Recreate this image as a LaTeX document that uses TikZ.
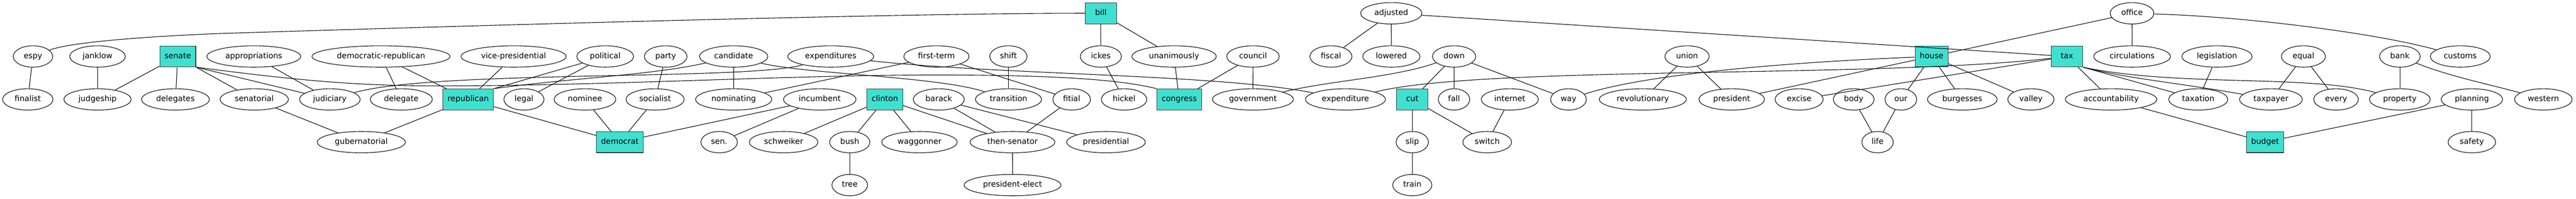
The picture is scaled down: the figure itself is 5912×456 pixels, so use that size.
\documentclass[tikz,border=0pt]{standalone}
\usepackage{fontspec}
\setmainfont{DejaVu Sans}
\usetikzlibrary{shapes.geometric}
\definecolor{turq}{RGB}{64,224,208}
\definecolor{boxline}{RGB}{51,51,51}
\begin{document}
\begin{tikzpicture}[x=0.5pt,y=-0.5pt,
  every node/.style={font=\fontsize{9}{11}\selectfont, text height=6.6pt, text depth=2pt},
  word/.style={ellipse, draw=black, line width=0.65pt, inner xsep=5.4pt, inner ysep=0pt, minimum width=36pt, minimum height=24.5pt},
  hub/.style={rectangle, draw=boxline, fill=turq, line width=0.65pt, inner xsep=5.4pt, inner ysep=0pt, minimum width=36pt, minimum height=24pt},
  link/.style={draw=black, line width=0.65pt}]
\useasboundingbox (0,0) rectangle (5912,456);
% row 0
\node[hub]  (bill) at (2526.5,30.5) {bill};
\node[word] (adjusted) at (3193,30.5) {adjusted};
\node[word] (office) at (4893,30.5) {office};
% row 1
\node[word] (espy) at (75.7,129.5) {espy};
\node[word] (janklow) at (223.8,129.5) {janklow};
\node[hub]  (senate) at (408,129.5) {senate};
\node[word] (appropriations) at (582.5,129.5) {appropriations};
\node[word] (demrep) at (874.5,129.5) {democratic-republican};
\node[word] (vicepres) at (1178.7,129.5) {vice-presidential};
\node[word] (political) at (1389,129.5) {political};
\node[word] (party) at (1527.7,129.5) {party};
\node[word] (candidate) at (1683.7,129.5) {candidate};
\node[word] (expenditures) at (1906.5,129.5) {expenditures};
\node[word] (firstterm) at (2149.2,129.5) {first-term};
\node[word] (shift) at (2314.3,129.5) {shift};
\node[word] (ickes) at (2526.5,129.5) {ickes};
\node[word] (unanimously) at (2694.5,129.5) {unanimously};
\node[word] (council) at (2875.7,129.5) {council};
\node[word] (fiscal) at (3054.5,129.5) {fiscal};
\node[word] (lowered) at (3193.2,129.5) {lowered};
\node[word] (down) at (3337.2,129.5) {down};
\node[word] (union) at (3871.8,129.5) {union};
\node[hub]  (house) at (4433.2,129.5) {house};
\node[hub]  (tax) at (4743.8,129.5) {tax};
\node[word] (circulations) at (4893.2,129.5) {circulations};
\node[word] (legislation) at (5088,129.5) {legislation};
\node[word] (equal) at (5286.3,129.5) {equal};
\node[word] (bank) at (5507.7,129.5) {bank};
\node[word] (customs) at (5646.3,129.5) {customs};
% row 2
\node[word] (finalist) at (63.8,228) {finalist};
\node[word] (judgeship) at (223.8,228) {judgeship};
\node[word] (delegates) at (402.7,228) {delegates};
\node[word] (senatorial) at (583.5,228) {senatorial};
\node[word] (judiciary) at (757,228) {judiciary};
\node[word] (delegate) at (921,228) {delegate};
\node[hub]  (republican) at (1074.5,228) {republican};
\node[word] (legal) at (1202.5,228) {legal};
\node[word] (nominee) at (1342.5,228) {nominee};
\node[word] (socialist) at (1503.5,228) {socialist};
\node[word] (nominating) at (1683.8,228) {nominating};
\node[word] (incumbent) at (1881.3,228) {incumbent};
\node[hub]  (clinton) at (2030.7,228) {clinton};
\node[word] (barack) at (2154.5,228) {barack};
\node[word] (transition) at (2314.5,228) {transition};
\node[word] (fitial) at (2459.5,228) {fitial};
\node[word] (hickel) at (2579.8,228) {hickel};
\node[hub]  (congress) at (2706.3,228) {congress};
\node[word] (government) at (2875.5,228) {government};
\node[word] (expenditure) at (3087.8,228) {expenditure};
\node[hub]  (cut) at (3241.2,228) {cut};
\node[word] (fall) at (3337,228) {fall};
\node[word] (internet) at (3465,228) {internet};
\node[word] (way) at (3599.7,228) {way};
\node[word] (revolutionary) at (3770.3,228) {revolutionary};
\node[word] (president) at (3974.3,228) {president};
\node[word] (excise) at (4129,228) {excise};
\node[word] (body) at (4254.3,228) {body};
\node[word] (our) at (4362.5,228) {our};
\node[word] (burgesses) at (4503.5,228) {burgesses};
\node[word] (valley) at (4661,228) {valley};
\node[word] (accountability) at (4845,228) {accountability};
\node[word] (taxation) at (5045,228) {taxation};
\node[word] (taxpayer) at (5211.8,228) {taxpayer};
\node[word] (every) at (5361.3,228) {every};
\node[word] (property) at (5507.7,228) {property};
\node[word] (planning) at (5673,228) {planning};
\node[word] (western) at (5837,228) {western};
% row 3
\node[word] (gubernatorial) at (829.2,326) {gubernatorial};
\node[hub]  (democrat) at (1422.5,326) {democrat};
\node[word] (sen) at (1650.5,326) {sen.};
\node[word] (schweiker) at (1798.5,326) {schweiker};
\node[word] (bush) at (1950.2,326) {bush};
\node[word] (waggonner) at (2110.3,326) {waggonner};
\node[word] (thensenator) at (2323.7,326) {then-senator};
\node[word] (presidential) at (2538.3,326) {presidential};
\node[word] (slip) at (3241.2,326) {slip};
\node[word] (switch) at (3413.2,326) {switch};
\node[word] (life) at (4309,326) {life};
\node[hub]  (budget) at (5198.5,326) {budget};
\node[word] (safety) at (5673,326) {safety};
% row 4
\node[word] (tree) at (1950.2,424.5) {tree};
\node[word] (preselect) at (2323.8,424.5) {president-elect};
\node[word] (train) at (3241.2,424.5) {train};

% curved connectors
\draw[link] (espy) .. controls (160,97) and (330,84) .. (500,77) .. controls (1200,55) and (2100,30) .. (bill.west);
\draw[link] (senate.south east) .. controls (650,180) and (800,197) .. (1000,197) .. controls (1400,197) and (1800,172) .. (2150,172) .. controls (2450,172) and (2580,185) .. (congress.north west);
\draw[link] (republican.north east) .. controls (1300,180) and (1500,172) .. (candidate);
\draw[link] (judiciary) .. controls (1000,160) and (1720,185) .. (expenditures);
\draw[link] (candidate) .. controls (1850,170) and (2150,175) .. (transition);
\draw[link] (expenditures) .. controls (2300,172) and (2800,170) .. (expenditure);
\draw[link] (down) .. controls (3200,178) and (3050,185) .. (government);
\draw[link] (expenditure) .. controls (3400,150) and (4300,180) .. (tax);
\draw[link] (way) .. controls (3760,175) and (4050,145) .. (house);
\draw[link] (office) .. controls (5150,38) and (5450,75) .. (customs);
\draw[link] (tax.south east) .. controls (5000,200) and (5300,170) .. (property);
\draw[link] (tax.south east) .. controls (4880,180) and (5000,190) .. (taxpayer);
\draw[link] (bank) .. controls (5620,175) and (5720,195) .. (western);

% straight connectors
\draw[link] (espy) -- (finalist);
\draw[link] (janklow) -- (judgeship);
\draw[link] (senate) -- (judgeship);
\draw[link] (senate) -- (delegates);
\draw[link] (senate.south east) -- (senatorial);
\draw[link] (senate.south east) -- (judiciary);
\draw[link] (appropriations) -- (judiciary);
\draw[link] (demrep) -- (delegate);
\draw[link] (demrep) -- (republican);
\draw[link] (vicepres) -- (republican);
\draw[link] (political) -- (republican.north east);
\draw[link] (political) -- (legal);
\draw[link] (party) -- (socialist);
\draw[link] (candidate) -- (nominating);
\draw[link] (republican) -- (gubernatorial);
\draw[link] (senatorial) -- (gubernatorial);
\draw[link] (republican) -- (democrat);
\draw[link] (nominee) -- (democrat);
\draw[link] (socialist) -- (democrat);
\draw[link] (incumbent) -- (democrat);
\draw[link] (incumbent) -- (sen);
\draw[link] (clinton) -- (schweiker);
\draw[link] (clinton) -- (bush);
\draw[link] (clinton) -- (waggonner);
\draw[link] (clinton) -- (thensenator);
\draw[link] (bush) -- (tree);
\draw[link] (nominating) -- (firstterm);
\draw[link] (firstterm) -- (fitial);
\draw[link] (shift) -- (transition);
\draw[link] (barack) -- (thensenator);
\draw[link] (barack) -- (presidential);
\draw[link] (fitial) -- (thensenator);
\draw[link] (thensenator) -- (preselect);
\draw[link] (bill) -- (ickes);
\draw[link] (bill) -- (unanimously);
\draw[link] (ickes) -- (hickel);
\draw[link] (unanimously) -- (congress);
\draw[link] (council) -- (congress);
\draw[link] (council) -- (government);
\draw[link] (adjusted) -- (fiscal);
\draw[link] (adjusted) -- (lowered);
\draw[link] (adjusted) -- (tax);
\draw[link] (down) -- (cut);
\draw[link] (down) -- (fall);
\draw[link] (down) -- (way);
\draw[link] (cut) -- (slip);
\draw[link] (cut) -- (switch);
\draw[link] (slip) -- (train);
\draw[link] (internet) -- (switch);
\draw[link] (union) -- (revolutionary);
\draw[link] (union) -- (president);
\draw[link] (house) -- (president);
\draw[link] (excise) -- (tax);
\draw[link] (house) -- (our);
\draw[link] (body) -- (life);
\draw[link] (our) -- (life);
\draw[link] (office) -- (house);
\draw[link] (office) -- (circulations);
\draw[link] (house) -- (burgesses);
\draw[link] (house) -- (valley);
\draw[link] (tax) -- (accountability);
\draw[link] (tax.south east) -- (taxation);
\draw[link] (legislation) -- (taxation);
\draw[link] (equal) -- (taxpayer);
\draw[link] (equal) -- (every);
\draw[link] (bank) -- (property);
\draw[link] (accountability) -- (budget);
\draw[link] (planning) -- (budget);
\draw[link] (planning) -- (safety);
\end{tikzpicture}
\end{document}
